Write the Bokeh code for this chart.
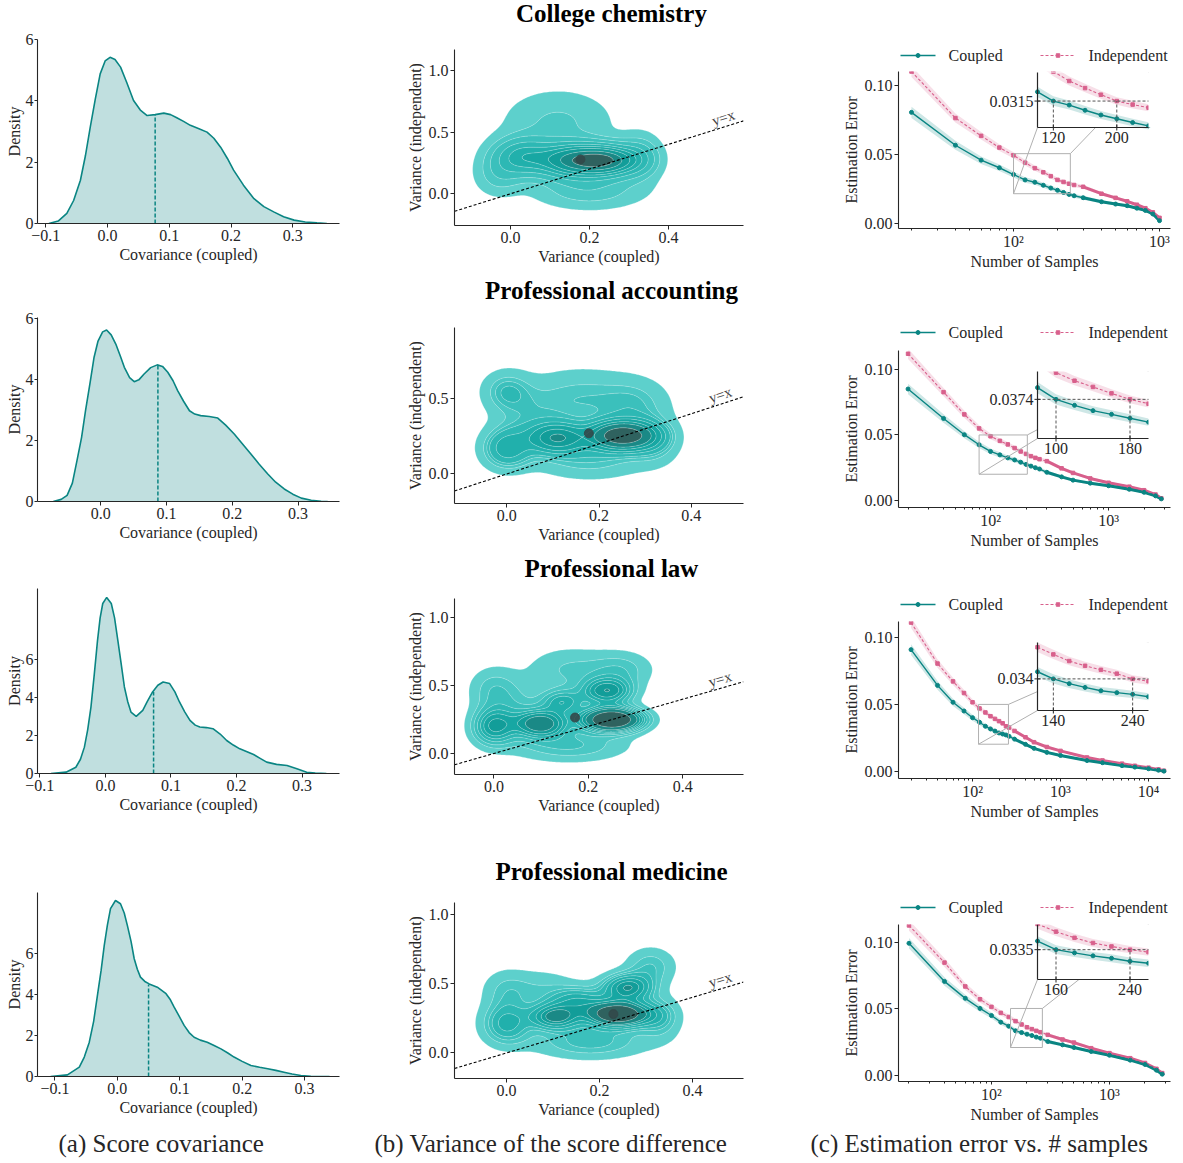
import math
import numpy as np
from bokeh.plotting import figure
from bokeh.layouts import row, column
from bokeh.models import (Range1d, LinearScale, FixedTicker, CustomJSTickFormatter,
                          NumeralTickFormatter, Spacer)
from bokeh.core.properties import value
from bokeh.embed import file_html
from bokeh.resources import INLINE

FONT = "Liberation Serif"
INK = "#262626"
TEAL = "#0a8583"
PINK = "#d8608c"

SUBJECTS = ["College chemistry", "Professional accounting", "Professional law", "Professional medicine"]
CAPTIONS = ["(a) Score covariance", "(b) Variance of the score difference",
            "(c) Estimation error vs. # samples"]
LEGEND_LABELS = ["Coupled", "Independent"]

# ---------------- (a) score covariance densities ----------------
chem_cov_x = [-0.095, -0.08, -0.066, -0.055, -0.044, -0.036, -0.028, -0.02, -0.012, -0.004, 0.004, 0.012,
              0.021, 0.031, 0.042, 0.053, 0.064, 0.077, 0.091, 0.102, 0.112, 0.123, 0.134, 0.147, 0.161,
              0.172, 0.183, 0.194, 0.204, 0.22, 0.237, 0.253, 0.269, 0.285, 0.302, 0.32, 0.339, 0.355]
chem_cov_d = [0.0, 0.08, 0.33, 0.75, 1.41, 2.2, 3.15, 4.05, 4.88, 5.3, 5.42, 5.35,
              5.1, 4.6, 4.01, 3.7, 3.52, 3.55, 3.6, 3.55, 3.45, 3.33, 3.2, 3.1, 2.98,
              2.78, 2.49, 2.12, 1.74, 1.25, 0.81, 0.55, 0.38, 0.22, 0.11, 0.05, 0.02, 0.0]
acc_cov_x = [-0.072, -0.06, -0.051, -0.043, -0.036, -0.029, -0.023, -0.016, -0.01, -0.004, 0.003, 0.009,
             0.016, 0.023, 0.03, 0.036, 0.044, 0.051, 0.058, 0.066, 0.076, 0.086, 0.094, 0.102, 0.11,
             0.117, 0.126, 0.135, 0.143, 0.152, 0.165, 0.178, 0.19, 0.203, 0.215, 0.228, 0.241, 0.254,
             0.266, 0.279, 0.292, 0.305, 0.32, 0.335, 0.345]
acc_cov_d = [0.0, 0.07, 0.2, 0.6, 1.34, 2.1, 2.97, 3.9, 4.72, 5.25, 5.55, 5.61,
             5.45, 5.15, 4.75, 4.39, 4.05, 3.92, 3.98, 4.17, 4.38, 4.47, 4.42, 4.23, 3.95,
             3.63, 3.28, 2.97, 2.86, 2.81, 2.78, 2.73, 2.5, 2.21, 1.9, 1.56, 1.22, 0.9,
             0.63, 0.41, 0.24, 0.11, 0.04, 0.01, 0.0]
law_cov_x = [-0.083, -0.06, -0.045, -0.038, -0.032, -0.027, -0.022, -0.017, -0.012, -0.008, -0.004, 0.002,
             0.009, 0.014, 0.019, 0.024, 0.029, 0.034, 0.039, 0.047, 0.057, 0.064, 0.072, 0.08, 0.088,
             0.098, 0.106, 0.113, 0.121, 0.129, 0.137, 0.144, 0.154, 0.164, 0.175, 0.185, 0.195, 0.205,
             0.216, 0.226, 0.236, 0.246, 0.261, 0.277, 0.292, 0.307, 0.32, 0.337]
law_cov_d = [0.0, 0.07, 0.33, 0.75, 1.39, 2.3, 3.5, 5.2, 7.0, 8.2, 8.96, 9.28,
             8.96, 8.2, 7.02, 5.8, 4.56, 3.8, 3.24, 3.01, 3.33, 3.8, 4.3, 4.65, 4.82,
             4.74, 4.3, 3.77, 3.25, 2.8, 2.55, 2.45, 2.42, 2.36, 2.08, 1.74, 1.5, 1.3,
             1.15, 1.0, 0.8, 0.6, 0.48, 0.42, 0.25, 0.07, 0.02, 0.0]
med_cov_x = [-0.107, -0.08, -0.061, -0.053, -0.045, -0.038, -0.032, -0.026, -0.021, -0.016, -0.011, -0.003,
             0.005, 0.011, 0.016, 0.022, 0.027, 0.032, 0.037, 0.044, 0.051, 0.064, 0.078, 0.085, 0.091,
             0.099, 0.107, 0.115, 0.123, 0.133, 0.144, 0.155, 0.166, 0.177, 0.187, 0.2, 0.214, 0.228,
             0.241, 0.254, 0.267, 0.28, 0.294, 0.31, 0.326, 0.34]
med_cov_d = [0.0, 0.08, 0.46, 0.95, 1.68, 2.7, 3.96, 5.2, 6.41, 7.4, 8.21, 8.61,
             8.45, 8.0, 7.39, 6.6, 5.76, 5.25, 4.86, 4.65, 4.53, 4.37, 4.05, 3.75, 3.39,
             2.95, 2.5, 2.15, 1.92, 1.78, 1.68, 1.52, 1.35, 1.15, 0.95, 0.74, 0.54, 0.45,
             0.38, 0.3, 0.21, 0.12, 0.05, 0.01, 0.0, 0.0]
COV_X = [chem_cov_x, acc_cov_x, law_cov_x, med_cov_x]
COV_D = [chem_cov_d, acc_cov_d, law_cov_d, med_cov_d]
COV_MEAN = [0.077, 0.087, 0.0735, 0.050]
COV_MEAN_H = [3.56, 4.47, 4.30, 4.50]
COV_XR = [(-0.1135, 0.3755), (-0.096, 0.363), (-0.1035, 0.357), (-0.128, 0.356)]
COV_YTOP = [6.0, 6.02, 9.75, 9.0]
COV_XTICKS = [-0.1, 0.0, 0.1, 0.2, 0.3]
COV_YTICKS = [0, 2, 4, 6]

# ---------------- (b) variance KDE (mixture components) ----------------
chem_kx = [0.24, 0.15, 0.03, 0.12, 0.20, 0.33, -0.03]
chem_ky = [0.27, 0.27, 0.30, 0.58, 0.03, 0.30, 0.15]
chem_ksx = [0.055, 0.055, 0.05, 0.09, 0.09, 0.035, 0.04]
chem_ksy = [0.08, 0.09, 0.10, 0.17, 0.10, 0.12, 0.11]
chem_kw = [0.30, 0.24, 0.15, 0.13, 0.10, 0.05, 0.04]
acc_kx = [0.25, 0.11, 0.00, 0.00, 0.16, 0.28, 0.18, 0.32, 0.05]
acc_ky = [0.255, 0.24, 0.17, 0.55, 0.50, 0.45, 0.10, 0.22, 0.35]
acc_ksx = [0.045, 0.04, 0.035, 0.035, 0.08, 0.05, 0.08, 0.035, 0.05]
acc_ksy = [0.06, 0.065, 0.09, 0.09, 0.13, 0.12, 0.09, 0.10, 0.13]
acc_kw = [0.30, 0.14, 0.09, 0.05, 0.14, 0.07, 0.10, 0.05, 0.06]
law_kx = [0.25, 0.10, 0.0, 0.0, 0.24, 0.145, 0.16, 0.27, 0.16, 0.05]
law_ky = [0.25, 0.22, 0.20, 0.47, 0.46, 0.38, 0.62, 0.62, 0.06, 0.32]
law_ksx = [0.04, 0.035, 0.03, 0.035, 0.035, 0.03, 0.06, 0.045, 0.08, 0.04]
law_ksy = [0.055, 0.065, 0.09, 0.11, 0.065, 0.06, 0.11, 0.09, 0.08, 0.13]
law_kw = [0.25, 0.13, 0.10, 0.05, 0.10, 0.05, 0.07, 0.05, 0.10, 0.05]
med_kx = [0.24, 0.26, 0.105, 0.155, 0.0, 0.0, 0.31, 0.18, 0.33, 0.08]
med_ky = [0.28, 0.47, 0.26, 0.38, 0.21, 0.45, 0.62, 0.08, 0.25, 0.45]
med_ksx = [0.045, 0.035, 0.035, 0.04, 0.035, 0.035, 0.035, 0.08, 0.03, 0.05]
med_ksy = [0.06, 0.065, 0.06, 0.065, 0.10, 0.10, 0.09, 0.08, 0.10, 0.10]
med_kw = [0.26, 0.11, 0.11, 0.07, 0.10, 0.04, 0.05, 0.12, 0.05, 0.05]
KDE = [(chem_kx, chem_ky, chem_ksx, chem_ksy, chem_kw),
       (acc_kx, acc_ky, acc_ksx, acc_ksy, acc_kw),
       (law_kx, law_ky, law_ksx, law_ksy, law_kw),
       (med_kx, med_ky, med_ksx, med_ksy, med_kw)]
VAR_MEAN_X = [0.177, 0.178, 0.172, 0.230]
VAR_MEAN_Y = [0.278, 0.270, 0.265, 0.280]
VAR_XR = [(-0.142, 0.59), (-0.113, 0.513), (-0.0835, 0.529), (-0.112, 0.51)]
VAR_YR = [(-0.257, 1.168), (-0.196, 0.973), (-0.155, 1.143), (-0.184, 1.083)]
VAR_XTICKS = [0.0, 0.2, 0.4]
VAR_YTICKS = [0.0, 0.5, 1.0]
KDE_PALETTE = ["#5dd0cc", "#4ac8c4", "#3bc0bc", "#2db8b4", "#21b0ac",
               "#17a7a3", "#129d99", "#1a8986", "#2f625f"]

# ---------------- (c) estimation error vs number of samples ----------------
chem_n = [20, 40, 60, 80, 100, 120, 140, 160, 180, 200, 220, 240, 260, 300, 400, 500, 600, 700, 800, 900, 1000]
chem_coupled = [0.0804, 0.0566, 0.0458, 0.0403, 0.0354, 0.0315, 0.0298, 0.0276, 0.0256, 0.0240, 0.0224,
                0.0210, 0.0200, 0.0186, 0.0157, 0.0140, 0.0128, 0.0110, 0.0094, 0.0068, 0.0020]
chem_indep = [0.1100, 0.0763, 0.0634, 0.0549, 0.0493, 0.0440, 0.0400, 0.0370, 0.0342, 0.0315, 0.0300,
              0.0287, 0.0278, 0.0265, 0.0215, 0.0185, 0.0160, 0.0135, 0.0110, 0.0080, 0.0040]
chem_band = [0.0040, 0.0032, 0.0027, 0.0024, 0.0022, 0.0020, 0.0019, 0.0018, 0.0017, 0.0016, 0.0016,
             0.0015, 0.0015, 0.0014, 0.0012, 0.0011, 0.0010, 0.0009, 0.0008, 0.0007, 0.0005]
acc_n = [20, 40, 60, 80, 100, 120, 140, 160, 180, 200, 220, 240, 260, 300, 400, 500, 700, 1000, 1500, 2000, 2500, 2800]
acc_coupled = [0.0851, 0.0626, 0.0502, 0.0425, 0.0374, 0.0348, 0.0325, 0.0309, 0.0292, 0.0275, 0.0262,
               0.0250, 0.0240, 0.0215, 0.0180, 0.0155, 0.0132, 0.0112, 0.0085, 0.0062, 0.0035, 0.0012]
acc_indep = [0.1120, 0.0827, 0.0657, 0.0550, 0.0490, 0.0455, 0.0428, 0.0400, 0.0374, 0.0355, 0.0338,
             0.0325, 0.0315, 0.0300, 0.0245, 0.0210, 0.0168, 0.0135, 0.0105, 0.0078, 0.0045, 0.0016]
acc_band = [0.0040, 0.0032, 0.0027, 0.0024, 0.0022, 0.0020, 0.0019, 0.0018, 0.0017, 0.0016, 0.0016,
            0.0015, 0.0015, 0.0014, 0.0012, 0.0011, 0.0010, 0.0009, 0.0008, 0.0007, 0.0006, 0.0005]
law_n = [20, 40, 60, 80, 100, 120, 140, 160, 180, 200, 220, 240, 260, 300, 400, 500, 700, 1000, 2000, 3000,
         5000, 7000, 10000, 13000, 15000]
law_coupled = [0.0912, 0.0645, 0.0519, 0.0454, 0.0404, 0.0370, 0.0340, 0.0320, 0.0304, 0.0290, 0.0282,
               0.0275, 0.0265, 0.0244, 0.0205, 0.0175, 0.0145, 0.0122, 0.0084, 0.0068, 0.0046, 0.0035,
               0.0023, 0.0012, 0.0005]
law_indep = [0.1114, 0.0808, 0.0675, 0.0588, 0.0519, 0.0473, 0.0443, 0.0415, 0.0395, 0.0378, 0.0362,
             0.0340, 0.0330, 0.0305, 0.0258, 0.0221, 0.0185, 0.0156, 0.0107, 0.0085, 0.0061, 0.0045,
             0.0031, 0.0018, 0.0008]
law_band = [0.0040, 0.0032, 0.0027, 0.0024, 0.0022, 0.0020, 0.0019, 0.0018, 0.0017, 0.0016, 0.0016,
            0.0015, 0.0015, 0.0014, 0.0012, 0.0011, 0.0010, 0.0009, 0.0008, 0.0007, 0.0006, 0.0005,
            0.0005, 0.0004, 0.0004]
med_n = [20, 40, 60, 80, 100, 120, 140, 160, 180, 200, 220, 240, 260, 300, 400, 500, 700, 1000, 1500, 2000, 2500, 2800]
med_coupled = [0.0992, 0.0706, 0.0579, 0.0503, 0.0450, 0.0400, 0.0370, 0.0335, 0.0322, 0.0310, 0.0300,
               0.0288, 0.0280, 0.0255, 0.0230, 0.0210, 0.0180, 0.0152, 0.0115, 0.0083, 0.0040, 0.0010]
med_indep = [0.1126, 0.0847, 0.0668, 0.0572, 0.0515, 0.0470, 0.0439, 0.0408, 0.0383, 0.0362, 0.0348,
             0.0335, 0.0325, 0.0305, 0.0270, 0.0247, 0.0205, 0.0168, 0.0130, 0.0094, 0.0050, 0.0018]
med_band = acc_band
ERR_N = [chem_n, acc_n, law_n, med_n]
ERR_C = [chem_coupled, acc_coupled, law_coupled, med_coupled]
ERR_I = [chem_indep, acc_indep, law_indep, med_indep]
ERR_HW = [chem_band, acc_band, law_band, med_band]
ERR_XR = [(16.3, 1189), (16.6, 3350), (14.4, 17800), (16.3, 3290)]
ERR_YR = [(-0.0037, 0.110), (-0.0054, 0.1145), (-0.005, 0.1122), (-0.0045, 0.1133)]
ERR_XTICKS = [[100, 1000], [100, 1000], [100, 1000, 10000], [100, 1000]]
ERR_YTICKS = [0.0, 0.05, 0.10]
# insets: x-limits, y-limits, marked ticks, threshold
INSET_X = [(100, 240), (80, 200), (120, 260), (140, 260)]
INSET_Y = [(0.0203, 0.0436), (0.0204, 0.0495), (0.0207, 0.0493), (0.0214, 0.0437)]
INSET_TICKS = [(120, 200), (100, 180), (140, 240), (160, 240)]
INSET_THR = [0.0315, 0.0374, 0.034, 0.0335]
INSET_THR_LABEL = ["0.0315", "0.0374", "0.034", "0.0335"]
BOX_X = [(100, 245), (80, 205), (117, 256), (145, 270)]
BOX_Y = [(0.0215, 0.0505), (0.020, 0.050), (0.0206, 0.0503), (0.021, 0.0503)]

# ---------------- layout (page pixels) ----------------
TITLE_T = [0, 274, 553, 851]       # top of title strip
SUB_T = [29, 306, 584, 887]        # top of the plot row
NEXT_T = [274, 553, 851, 1128]     # top of the next block
TITLE_Y = [16, 16, 16, 16]         # title centre above strip bottom
LEG_Y = [9, 11, 14, 14]            # legend centre above strip bottom
A_FRAME = [(39, 223), (317, 501), (588, 773), (892, 1076)]
B_FRAME = [(49, 225), (327, 503), (598, 774), (902, 1078)]
C_FRAME = [(71, 228), (350, 507), (621, 778), (924, 1081)]
INSET_PY = [(1, 56), (21, 88), (21, 89), (0, 55)]
MBT_A = [7, 7, 3, 3]
MBT_B = [5, 5, 3, 3]
MBT_C = [7, 7, 3, 3]
WA, WB, WC = 350, 407, 426
A_L, A_R = 37, 11
B_L, B_R = 104, 14
C_L, C_R = 141, 13


def style(p, size="16px"):
    p.outline_line_color = None
    p.xgrid.visible = False
    p.ygrid.visible = False
    p.background_fill_color = "white"
    p.border_fill_color = "white"
    for ax in p.axis:
        ax.axis_line_color = INK
        ax.axis_line_width = 1.1
        ax.major_tick_line_color = INK
        ax.major_tick_line_width = 1
        ax.major_tick_out = 4
        ax.major_tick_in = 0
        ax.minor_tick_line_color = None
        ax.major_label_text_font = FONT
        ax.major_label_text_font_size = size
        ax.major_label_text_color = INK
        ax.axis_label_text_font = FONT
        ax.axis_label_text_font_size = "16px"
        ax.axis_label_text_font_style = "normal"
        ax.axis_label_text_color = INK
        ax.major_label_standoff = 2
        ax.axis_label_standoff = 2


def geometry(i, fr, mbt):
    sp = max(0, fr[0] - mbt - SUB_T[i])
    fh = fr[1] - fr[0]
    h = NEXT_T[i] - SUB_T[i] - sp
    mbb = h - mbt - fh
    return sp, h, mbb, fh


def strip(width, height):
    s = figure(width=width, height=height, x_range=Range1d(0, width), y_range=Range1d(0, height),
               min_border=0, min_border_left=0, min_border_right=0, min_border_top=0,
               min_border_bottom=0, x_axis_location=None, y_axis_location=None,
               title_location=None, output_backend="svg", toolbar_location=None)
    s.outline_line_color = None
    s.xgrid.visible = False
    s.ygrid.visible = False
    return s


MINUS_FMT = ("const v = Math.abs(tick) < 1e-9 ? 0 : tick;"
             "return (v < 0 ? '\\u2212' : '') + Math.abs(v).toFixed(1);")


def cov_plot(i):
    mbt = MBT_A[i]
    sp, h, mbb, fh = geometry(i, A_FRAME[i], mbt)
    p = figure(width=WA, height=h, min_border_left=A_L, min_border_right=A_R,
               min_border_top=mbt, min_border_bottom=mbb, title_location=None,
               x_range=Range1d(*COV_XR[i]), y_range=Range1d(0, COV_YTOP[i]),
               output_backend="svg", toolbar_location=None)
    style(p)
    xs, ds = COV_X[i], COV_D[i]
    p.varea(x=xs, y1=[0] * len(xs), y2=ds, fill_color=TEAL, fill_alpha=0.26)
    p.line(xs, ds, line_color=TEAL, line_width=1.6)
    p.segment(x0=[COV_MEAN[i]], y0=[0], x1=[COV_MEAN[i]], y1=[COV_MEAN_H[i]],
              line_color=TEAL, line_width=1.5, line_dash="4 2")
    p.xaxis.ticker = FixedTicker(ticks=COV_XTICKS)
    p.xaxis.formatter = CustomJSTickFormatter(code=MINUS_FMT)
    p.yaxis.ticker = FixedTicker(ticks=COV_YTICKS)
    p.xaxis.axis_label = "Covariance (coupled)"
    p.yaxis.axis_label = "Density"
    p.yaxis.axis_label_standoff = 0
    p.yaxis.major_label_standoff = 1
    p.yaxis.major_tick_out = 3
    if sp > 0:
        return column(Spacer(width=WA, height=sp), p)
    return column(p)


def iso_levels(z, n=10, thresh=0.05):
    vals = np.sort(z.ravel())[::-1]
    cum = np.cumsum(vals) / vals.sum()
    props = np.linspace(thresh, 1, n)
    idx = np.searchsorted(cum, 1 - props)
    lv = np.sort(np.take(vals, idx, mode="clip"))
    lv[-1] = z.max() * 1.001
    return lv


def var_plot(i):
    mbt = MBT_B[i]
    sp, h, mbb, fh = geometry(i, B_FRAME[i], mbt)
    xr, yr = VAR_XR[i], VAR_YR[i]
    p = figure(width=WB, height=h, min_border_left=B_L, min_border_right=B_R,
               min_border_top=mbt, min_border_bottom=mbb, title_location=None,
               x_range=Range1d(*xr), y_range=Range1d(*yr),
               output_backend="svg", toolbar_location=None)
    style(p)
    kx, ky, ksx, ksy, kw = [np.array(a, float) for a in KDE[i]]
    gx = np.linspace(xr[0], xr[1], 180)
    gy = np.linspace(yr[0], yr[1], 180)
    X, Y = np.meshgrid(gx, gy)
    Z = np.zeros_like(X)
    for cx, cy, sx, sy, w in zip(kx, ky, ksx, ksy, kw):
        Z += w / (sx * sy) * np.exp(-0.5 * ((X - cx) / sx) ** 2 - 0.5 * ((Y - cy) / sy) ** 2)
    lv = iso_levels(Z)
    p.contour(gx, gy, Z, lv, fill_color=KDE_PALETTE, line_color="white", line_alpha=0.3,
              line_width=0.8)
    p.scatter([VAR_MEAN_X[i]], [VAR_MEAN_Y[i]], size=9, color="#33494a", alpha=0.9)
    p.line([xr[0], xr[1]], [xr[0], xr[1]], line_color="black", line_width=1.1, line_dash="3 2")
    fw = WB - B_L - B_R
    ang = math.atan((fh / (yr[1] - yr[0])) / (fw / (xr[1] - xr[0])))
    lx = xr[1] - 0.045
    p.text(x=[lx], y=[lx], text=["y=x"], angle=ang, text_font=value(FONT), text_font_size="15px",
           text_color="#444444", text_align="center", text_baseline="bottom", y_offset=-1)
    p.xaxis.ticker = FixedTicker(ticks=VAR_XTICKS)
    p.yaxis.ticker = FixedTicker(ticks=VAR_YTICKS)
    p.xaxis.formatter = NumeralTickFormatter(format="0.0")
    p.yaxis.formatter = NumeralTickFormatter(format="0.0")
    p.xaxis.axis_label = "Variance (coupled)"
    p.yaxis.axis_label = "Variance (independent)"
    if sp > 0:
        return column(Spacer(width=WB, height=sp), p)
    return column(p)


LOG_FMT = ("const sup = {2: '\u00b2', 3: '\u00b3', 4: '\u2074'};"
           "return '10' + sup[Math.round(Math.log10(tick))];")


def legend_strip(i, height):
    s = strip(WC, height)
    y = LEG_Y[i]
    s.line([143, 178], [y, y], line_color=TEAL, line_width=1.4)
    s.scatter([160.5], [y], marker="circle", size=4, color=TEAL)
    s.line([283, 318], [y, y], line_color=PINK, line_width=1.1, line_dash="3 2")
    s.scatter([300.5], [y], marker="square", size=3.5, color=PINK)
    s.text(x=[191, 331], y=[y, y], text=LEGEND_LABELS, text_font=value(FONT),
           text_font_size="16px", text_color=INK, text_baseline="middle", text_align="left")
    return s


def err_plot(i):
    mbt = MBT_C[i]
    sp, h, mbb, fh = geometry(i, C_FRAME[i], mbt)
    FW = WC - C_L - C_R
    xr, yr = ERR_XR[i], ERR_YR[i]
    p = figure(width=WC, height=h, min_border_left=C_L, min_border_right=C_R,
               min_border_top=mbt, min_border_bottom=mbb, x_axis_type="log", title_location=None,
               x_range=Range1d(*xr), y_range=Range1d(*yr),
               output_backend="svg", toolbar_location=None)
    style(p)
    xs = np.array(ERR_N[i], float)
    tc = np.array(ERR_C[i])
    tp = np.array(ERR_I[i])
    hw = np.array(ERR_HW[i])

    def draw_series(sel, **rk):
        p.varea(x=xs[sel], y1=tp[sel] - hw[sel], y2=tp[sel] + hw[sel], fill_color=PINK,
                fill_alpha=0.2, **rk)
        p.varea(x=xs[sel], y1=tc[sel] - hw[sel], y2=tc[sel] + hw[sel], fill_color=TEAL,
                fill_alpha=0.2, **rk)
        p.line(xs[sel], tp[sel], line_color=PINK, line_width=1.1, line_dash="3 2", **rk)
        p.scatter(xs[sel], tp[sel], marker="square", size=3.5, color=PINK, **rk)
        p.line(xs[sel], tc[sel], line_color=TEAL, line_width=1.4, **rk)
        p.scatter(xs[sel], tc[sel], marker="circle", size=4, color=TEAL, **rk)

    dense = xs >= 300
    p.line(xs[dense], tp[dense], line_color=PINK, line_width=3)
    p.line(xs[dense], tc[dense], line_color=TEAL, line_width=3)
    draw_series(np.ones(len(xs), bool))

    # inset geometry
    IL, IR = 139, 250
    IT, IB = INSET_PY[i]
    a, b = INSET_X[i]
    c, d = INSET_Y[i]
    kx = (IR - IL) / (b - a)
    sx0 = a - IL / kx
    sx1 = sx0 + FW / kx
    ky = (IB - IT) / (d - c)
    sy1 = d + IT / ky
    sy0 = sy1 - fh / ky
    p.extra_x_ranges = {"ins": Range1d(sx0, sx1)}
    p.extra_y_ranges = {"ins": Range1d(sy0, sy1)}
    p.extra_x_scales = {"ins": LinearScale()}
    p.extra_y_scales = {"ins": LinearScale()}
    rk = dict(x_range_name="ins", y_range_name="ins")

    lx0, lx1 = math.log10(xr[0]), math.log10(xr[1])

    def px2x(px):
        return 10 ** (lx0 + px / FW * (lx1 - lx0))

    def py2y(py):
        return yr[1] - py / fh * (yr[1] - yr[0])

    bx, by = BOX_X[i], BOX_Y[i]
    p.quad(left=[bx[0]], right=[bx[1]], bottom=[by[0]], top=[by[1]], fill_color=None,
           line_color="#b0b0b0", line_width=1)
    p.segment(x0=[bx[0], bx[1]], y0=[by[0], by[1]], x1=[px2x(IL), px2x(IR)],
              y1=[py2y(IB), py2y(IT)], line_color="#b0b0b0", line_width=1)
    # inset
    p.quad(left=[a], right=[b], bottom=[c], top=[d], fill_color="white", line_color=None, **rk)
    insel = (xs >= a) & (xs <= b)
    draw_series(insel, **rk)
    pad = 0.05 * (b - a)
    p.quad(left=[a - pad, b], right=[b + pad, b + pad], bottom=[d, c], top=[sy1, d],
           fill_color="white", line_color=None, **rk)
    t1, t2 = INSET_TICKS[i]
    thr = INSET_THR[i]
    p.segment(x0=[a, t1, t2], y0=[thr, c, c], x1=[b, t1, t2], y1=[thr, thr, thr],
              line_color="#555555", line_width=1, line_dash="3 2", **rk)
    p.segment(x0=[a, a], y0=[c, c], x1=[a, b], y1=[d, c], line_color=INK, line_width=1.2, **rk)
    p.scatter(x=[t1, t2], y=[c, c], marker="dash", angle=math.pi / 2, size=6, line_color=INK, **rk)
    p.scatter(x=[a], y=[thr], marker="dash", size=6, line_color=INK, **rk)
    p.text(x=[t1, t2], y=[c, c], text=[str(t1), str(t2)], y_offset=4, text_baseline="top",
           text_align="center", text_font=value(FONT), text_font_size="16px", text_color=INK, **rk)
    p.text(x=[a], y=[thr], text=[INSET_THR_LABEL[i]], x_offset=-4, text_baseline="middle",
           text_align="right", text_font=value(FONT), text_font_size="16px", text_color=INK, **rk)

    p.xaxis.ticker = FixedTicker(ticks=ERR_XTICKS[i],
                                 minor_ticks=[m * 10 ** e for e in range(1, 5) for m in range(2, 10)])
    p.xaxis.formatter = CustomJSTickFormatter(code=LOG_FMT)
    p.xaxis.minor_tick_line_color = INK
    p.xaxis.minor_tick_out = 2
    p.xaxis.minor_tick_in = 0
    p.xaxis.major_tick_out = 3
    p.yaxis.ticker = FixedTicker(ticks=ERR_YTICKS)
    p.yaxis.formatter = NumeralTickFormatter(format="0.00")
    p.xaxis.axis_label = "Number of Samples"
    p.yaxis.axis_label = "Estimation Error"
    p.xaxis.axis_label_standoff = 0
    p.xaxis.major_label_standoff = 1
    return column(column(legend_strip(i, sp)), column(p))


blocks = []
for i in range(4):
    sh = SUB_T[i] - TITLE_T[i]
    t = strip(WA + WB + WC, sh)
    t.text(x=[611], y=[TITLE_Y[i]], text=[SUBJECTS[i]], text_font=value(FONT),
           text_font_size="25px", text_font_style="bold", text_color="black",
           text_align="center", text_baseline="middle")
    blocks.append(column(t))
    blocks.append(row(cov_plot(i), var_plot(i), err_plot(i)))

cap = strip(WA + WB + WC, 34)
cap.text(x=[58, 374, 810], y=[19, 19, 19], text=CAPTIONS, text_font=value(FONT),
         text_font_size="25px", text_baseline="middle", text_align="left", text_color=INK)
blocks.append(column(cap))

layout = column(*blocks)
open("out.html", "w").write(file_html(layout, INLINE))
